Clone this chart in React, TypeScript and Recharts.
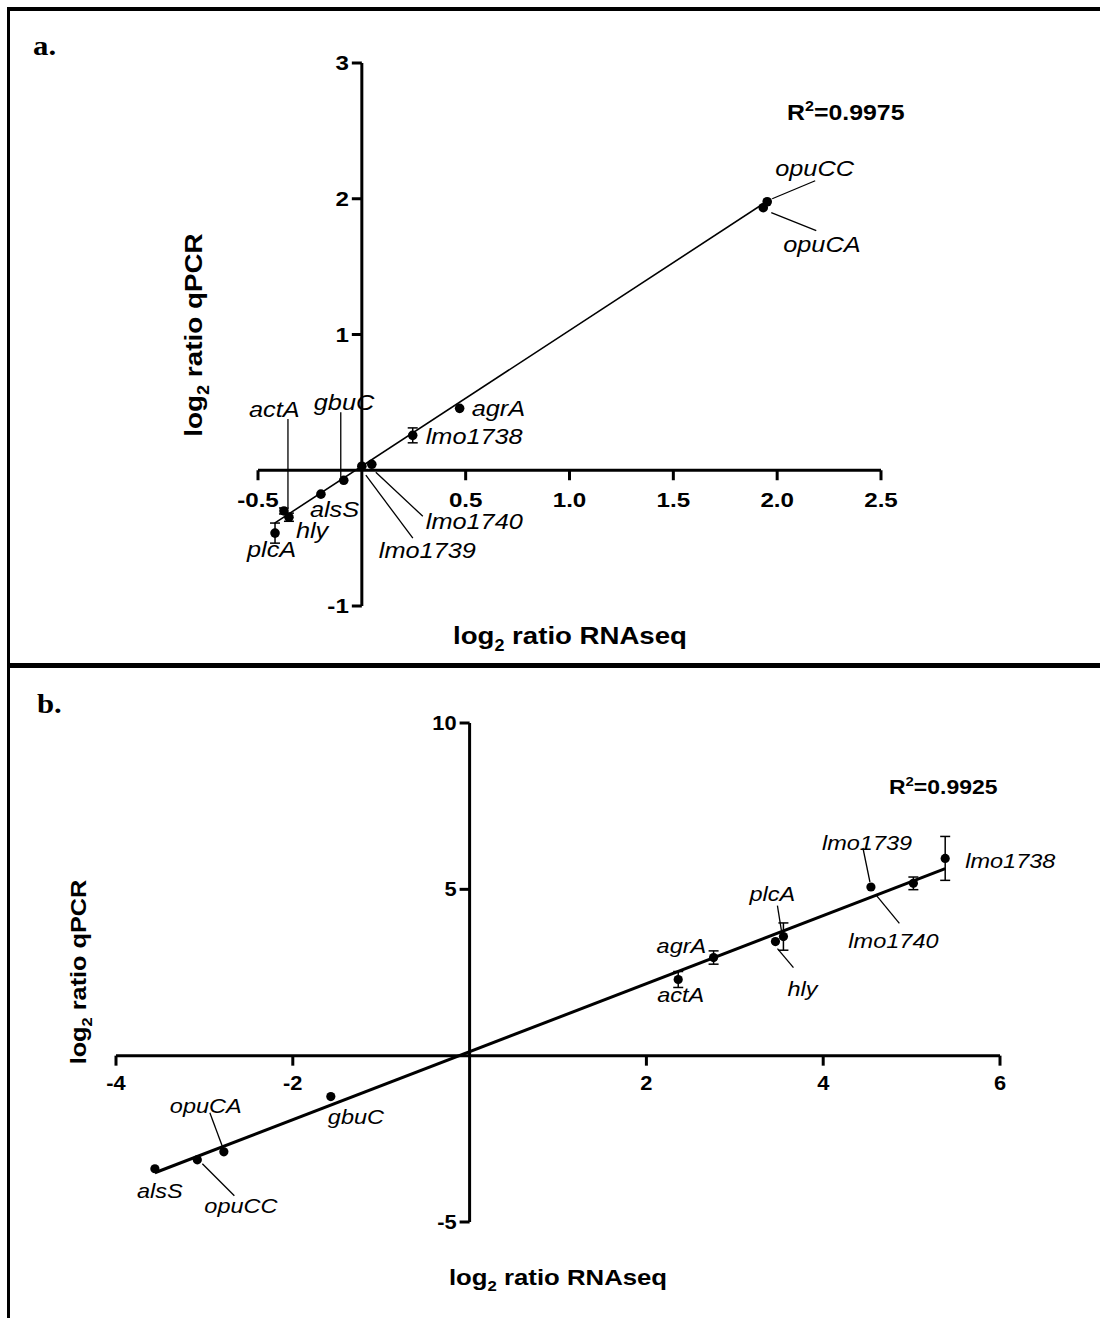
import React from 'react';
import { ScatterChart, Scatter, XAxis, YAxis, ReferenceLine, ErrorBar } from 'recharts';

// ---------- Panel a data ----------
const genesA = ['opuCC', 'opuCA', 'agrA', 'lmo1738', 'lmo1740', 'lmo1739', 'gbuC', 'actA', 'alsS', 'hly', 'plcA'];
const rnaA = [1.952, 1.933, 0.471, 0.245, 0.048, 0.0, -0.087, -0.375, -0.197, -0.351, -0.418];
const qpcrA = [1.978, 1.934, 0.456, 0.257, 0.044, 0.03, -0.074, -0.3, -0.176, -0.346, -0.463];
const errA = [0, 0, 0, 0.055, 0, 0, 0, 0.022, 0, 0.03, 0.074];
const fitA = [{ x: -0.42, y: -0.39 }, { x: 1.96, y: 1.99 }];
const xTicksA = [-0.5, 0.5, 1.0, 1.5, 2.0, 2.5];
const xTickLabelsA = ['-0.5', '0.5', '1.0', '1.5', '2.0', '2.5'];
const yTicksA = [-1, 1, 2, 3];
const yTickLabelsA = ['-1', '1', '2', '3'];

// ---------- Panel b data ----------
const genesB = ['lmo1738', 'lmo1740', 'lmo1739', 'plcA', 'hly', 'agrA', 'actA', 'gbuC', 'opuCA', 'opuCC', 'alsS'];
const rnaB = [5.38, 5.02, 4.54, 3.55, 3.46, 2.76, 2.36, -1.57, -2.78, -3.08, -3.56];
const qpcrB = [5.93, 5.18, 5.07, 3.58, 3.43, 2.95, 2.29, -1.23, -2.89, -3.13, -3.4];
const errB = [0.66, 0.19, 0, 0.41, 0, 0.2, 0.24, 0, 0, 0, 0];
const fitB = [{ x: -3.56, y: -3.52 }, { x: 5.38, y: 5.62 }];
const xTicksB = [-4, -2, 2, 4, 6];
const xTickLabelsB = ['-4', '-2', '2', '4', '6'];
const yTicksB = [-5, 5, 10];
const yTickLabelsB = ['-5', '5', '10'];

// ---------- Label layout (pixel offsets from each point) ----------
type Lay = { dx: number; dy: number; leader?: number[] };
const layoutA: Record<string, Lay> = {
  opuCC: { dx: 8, dy: -26, leader: [5, -3, 48, -21] },
  opuCA: { dx: 20, dy: 44, leader: [8, 5, 53, 23] },
  agrA: { dx: 12, dy: 8 },
  lmo1738: { dx: 13, dy: 9 },
  lmo1740: { dx: 54, dy: 65, leader: [4, 8, 51, 52] },
  lmo1739: { dx: 17, dy: 92, leader: [4, 9, 51, 72] },
  gbuC: { dx: -30, dy: -70, leader: [-3, -68, -3, -3] },
  actA: { dx: -35, dy: -94, leader: [4, -92, 4, -4] },
  alsS: { dx: -11, dy: 23 },
  hly: { dx: 7, dy: 21 },
  plcA: { dx: -28, dy: 24 },
};
const layoutB: Record<string, Lay> = {
  lmo1738: { dx: 20, dy: 10 },
  lmo1739: { dx: -49, dy: -37, leader: [-8, -39, -1, -5] },
  lmo1740: { dx: -65, dy: 65, leader: [-37, 12, -14, 40] },
  plcA: { dx: -34, dy: -36, leader: [-6, -31, -2, -6] },
  hly: { dx: 12, dy: 54, leader: [2, 7, 18, 26] },
  agrA: { dx: -57, dy: -5 },
  actA: { dx: -21, dy: 23 },
  alsS: { dx: -18, dy: 29 },
  opuCC: { dx: 7, dy: 53, leader: [5, 4, 37, 36] },
  opuCA: { dx: -54, dy: -39, leader: [-14, -39, -1, -4] },
  gbuC: { dx: -3, dy: 27 },
};

const SANS = '"Liberation Sans", Arial, sans-serif';
const SERIF = '"Liberation Serif", "Times New Roman", serif';

type PanelCfg = {
  genes: string[]; xs: number[]; ys: number[]; errs: number[];
  fit: { x: number; y: number }[];
  xTicks: number[]; xTickLabels: string[]; yTicks: number[]; yTickLabels: string[];
  layout: Record<string, Lay>;
  xDomain: [number, number]; yDomain: [number, number];
  width: number; height: number; margin: { top: number; right: number; bottom: number; left: number };
  labelFont: number; tickFont: number; sx: number; dotR: number; fitWidth: number;
  xTickLabelDy: number;
};

const SText = ({ x, y, sx, children, ...rest }: any) => (
  <text transform={`translate(${x},${y}) scale(${sx},1)`} {...rest}>{children}</text>
);

function Panel({ c }: { c: PanelCfg }) {
  const points = c.genes.map((g, i) => ({ name: g, x: c.xs[i], y: c.ys[i], err: c.errs[i] }));
  const errPoints = points.filter((p) => p.err > 0);
  const xTickData = c.xTicks.map((t, i) => ({ x: t, y: 0, label: c.xTickLabels[i] }));
  const yTickData = c.yTicks.map((t, i) => ({ x: 0, y: t, label: c.yTickLabels[i] }));

  return (
    <ScatterChart width={c.width} height={c.height} margin={c.margin}>
      <XAxis type="number" dataKey="x" domain={c.xDomain} hide />
      <YAxis type="number" dataKey="y" domain={c.yDomain} hide />
      <ReferenceLine y={0} stroke="#000" strokeWidth={3} />
      <ReferenceLine x={0} stroke="#000" strokeWidth={3} />
      <ReferenceLine segment={c.fit} stroke="#000" strokeWidth={c.fitWidth} />
      <Scatter
        data={xTickData}
        isAnimationActive={false}
        shape={(p: any) => (
          <g>
            <line x1={p.cx} y1={p.cy} x2={p.cx} y2={p.cy + 10} stroke="#000" strokeWidth={3} />
            <SText x={p.cx} y={p.cy + c.xTickLabelDy} sx={c.sx} textAnchor="middle" fontFamily={SANS}
              fontWeight="bold" fontSize={c.tickFont} fill="#000">{p.payload.label}</SText>
          </g>
        )}
      />
      <Scatter
        data={yTickData}
        isAnimationActive={false}
        shape={(p: any) => (
          <g>
            <line x1={p.cx - 10} y1={p.cy} x2={p.cx} y2={p.cy} stroke="#000" strokeWidth={3} />
            <SText x={p.cx - 13} y={p.cy + 7} sx={c.sx} textAnchor="end" fontFamily={SANS}
              fontWeight="bold" fontSize={c.tickFont} fill="#000">{p.payload.label}</SText>
          </g>
        )}
      />
      <Scatter data={errPoints} isAnimationActive={false} shape={() => <g />}>
        <ErrorBar dataKey="err" direction="y" width={5} stroke="#000" strokeWidth={1.5} isAnimationActive={false} />
      </Scatter>
      <Scatter
        data={points}
        isAnimationActive={false}
        shape={(p: any) => <circle cx={p.cx} cy={p.cy} r={c.dotR} fill="#000" />}
      />
      <Scatter
        data={points}
        isAnimationActive={false}
        shape={(p: any) => {
          const l = c.layout[p.payload.name];
          if (!l) return <g />;
          return (
            <g>
              {l.leader && (
                <line x1={p.cx + l.leader[0]} y1={p.cy + l.leader[1]} x2={p.cx + l.leader[2]} y2={p.cy + l.leader[3]}
                  stroke="#000" strokeWidth={1.3} />
              )}
              <SText x={p.cx + l.dx} y={p.cy + l.dy} sx={c.sx} fontFamily={SANS} fontStyle="italic"
                fontSize={c.labelFont} fill="#000">{p.payload.name}</SText>
            </g>
          );
        }}
      />
    </ScatterChart>
  );
}

const cfgA: PanelCfg = {
  genes: genesA, xs: rnaA, ys: qpcrA, errs: errA, fit: fitA,
  xTicks: xTicksA, xTickLabels: xTickLabelsA, yTicks: yTicksA, yTickLabels: yTickLabelsA,
  layout: layoutA, xDomain: [-0.5, 2.5], yDomain: [-1, 3],
  width: 1100, height: 660, margin: { top: 63, right: 219, bottom: 54, left: 258 },
  labelFont: 22, tickFont: 21, sx: 1.15, dotR: 4.8, fitWidth: 1.6, xTickLabelDy: 37,
};
const cfgB: PanelCfg = {
  genes: genesB, xs: rnaB, ys: qpcrB, errs: errB, fit: fitB,
  xTicks: xTicksB, xTickLabels: xTickLabelsB, yTicks: yTicksB, yTickLabels: yTickLabelsB,
  layout: layoutB, xDomain: [-4, 6], yDomain: [-5, 10],
  width: 1100, height: 640, margin: { top: 53, right: 100, bottom: 88, left: 116 },
  labelFont: 21, tickFont: 19.5, sx: 1.12, dotR: 4.6, fitWidth: 3, xTickLabelDy: 34,
};

const Title = ({ x, y, sx, size, rotate, rest, pre }: any) => (
  <text transform={`translate(${x},${y}) ${rotate ? 'rotate(-90)' : ''} scale(${sx},1)`} textAnchor="middle"
    fontFamily={SANS} fontWeight="bold" fontSize={size} fill="#000">
    {pre}<tspan dy={size * 0.28} fontSize={size * 0.65}>2</tspan><tspan dy={-size * 0.28}>{rest}</tspan>
  </text>
);

const R2 = ({ x, y, size, sx, value }: any) => (
  <text transform={`translate(${x},${y}) scale(${sx},1)`} fontFamily={SANS} fontWeight="bold" fontSize={size} fill="#000">
    R<tspan dy={-size * 0.4} fontSize={size * 0.65}>2</tspan><tspan dy={size * 0.4}>{value}</tspan>
  </text>
);

export default function App() {
  return (
    <div style={{ position: 'absolute', left: 0, top: 0, width: 1100, height: 1318, background: '#fff', overflow: 'hidden' }}>
      <div style={{ position: 'absolute', left: 7, top: 7, width: 1100, height: 1318, borderTop: '4px solid #000', borderLeft: '3px solid #000', boxSizing: 'border-box' }} />
      <div style={{ position: 'absolute', left: 7, top: 663, width: 1100, height: 5, background: '#000' }} />
      <div style={{ position: 'absolute', left: 0, top: 0 }}>
        <Panel c={cfgA} />
      </div>
      <div style={{ position: 'absolute', left: 0, top: 670 }}>
        <Panel c={cfgB} />
      </div>
      <svg width={1100} height={1318} style={{ position: 'absolute', left: 0, top: 0, pointerEvents: 'none' }}>
        <text transform="translate(33,55) scale(1.1,1)" fontFamily={SERIF} fontWeight="bold" fontSize={28} fill="#000">a.</text>
        <text transform="translate(37,713) scale(1.1,1)" fontFamily={SERIF} fontWeight="bold" fontSize={28} fill="#000">b.</text>
        <Title x={570} y={644} sx={1.15} size={24} pre="log" rest=" ratio RNAseq" />
        <Title x={202} y={335} sx={1.16} size={24} rotate pre="log" rest=" ratio qPCR" />
        <Title x={558} y={1285} sx={1.12} size={23} pre="log" rest=" ratio RNAseq" />
        <Title x={86} y={972} sx={1.15} size={22} rotate pre="log" rest=" ratio qPCR" />
        <R2 x={787} y={120} size={22} sx={1.13} value="=0.9975" />
        <R2 x={889} y={794} size={20.5} sx={1.12} value="=0.9925" />
      </svg>
    </div>
  );
}
